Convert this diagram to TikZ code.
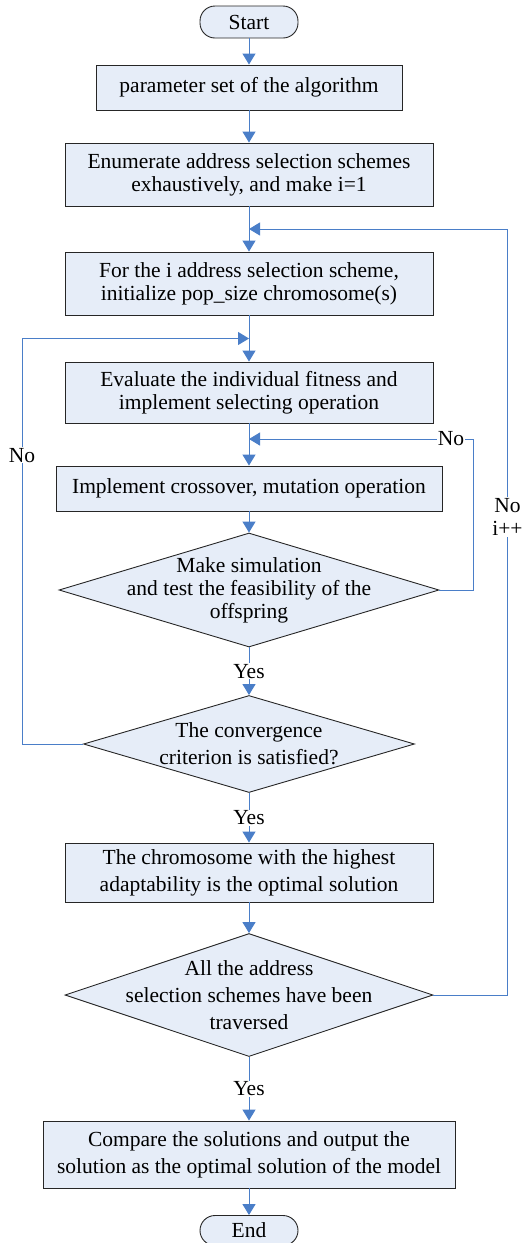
\documentclass[tikz,border=0pt]{standalone}
\usepackage{fontspec}
\setmainfont{Liberation Serif}
\usetikzlibrary{positioning, shapes.geometric, arrows.meta, calc}
\definecolor{flowblue}{HTML}{4A7EC8}
\definecolor{boxfill}{HTML}{E6EDF8}
\definecolor{boxline}{HTML}{262626}
\tikzset{
  stepbox/.style={draw=boxline, fill=boxfill, line width=0.9pt, align=center, inner sep=0pt},
  term/.style={stepbox, rounded corners=15pt, minimum width=98pt, minimum height=32pt},
  test/.style={diamond, stepbox},
  wide/.style={font=\fontsize{21.5}{27}\selectfont},
  flow/.style={->, color=flowblue, line width=1pt},
  lbl/.style={fill=white, text=black, inner sep=1pt, align=center}
}

\begin{document}
\begin{tikzpicture}
	[on grid, x=1pt, y=1pt, >={Triangle[width=13pt,length=11pt]}, font=\fontsize{21.5}{23}\selectfont]
   \useasboundingbox (0,0) rectangle (529,-1243);
   \node[term] (start) at (249,-22) {Start};
   \node[stepbox, minimum width=306pt, minimum height=45pt] (b_1) [below=65.5pt of start] {parameter set of the algorithm};
   \node[stepbox, minimum width=368pt, minimum height=63pt] (b_2) [below=87pt of b_1] {Enumerate address selection schemes\\exhaustively, and make i=1};
   \node[stepbox, minimum width=368pt, minimum height=63pt] (b_3) [below=109pt of b_2] {For the i address selection scheme,\\initialize pop\_size chromosome(s)};
   \node[stepbox, minimum width=368pt, minimum height=61pt] (b_4) [below=109pt of b_3] {Evaluate the individual fitness and\\implement selecting operation};
   \node[stepbox, minimum width=386pt, minimum height=45pt] (b_5) [below=96pt of b_4] {Implement crossover, mutation operation};
   \node[test, minimum width=380pt, minimum height=114pt, label={[align=center]center:Make simulation\\and test the feasibility of the\\offspring}] (d_1) [below=101.5pt of b_5] {};
   \node[test, minimum width=331pt, minimum height=97pt, label={[align=center, wide]center:The convergence\\criterion  is satisfied?}] (d_2) [below=154pt of d_1] {};
   \node[stepbox, wide, minimum width=368pt, minimum height=59pt] (b_6) [below=128.5pt of d_2] {The chromosome with the highest\\adaptability is the optimal solution};
   \node[test, minimum width=368pt, minimum height=123pt, label={[align=center, wide]center:All the address\\selection schemes have been\\traversed}] (d_3) [below=122.5pt of b_6] {};
   \node[stepbox, wide, minimum width=412pt, minimum height=67pt] (b_7) [below=159.5pt of d_3] {Compare the solutions and output the\\solution  as the optimal solution of the model};
   \node[term, minimum height=30pt] (fin) [below=76pt of b_7] {End};
   % joints on the main line
   \coordinate (j_1) at ($(b_2.south)!0.5!(b_3.north)$);
   \coordinate (j_2) at ($(b_3.south)!0.5!(b_4.north)$);
   \coordinate (j_3) at ($(b_4.south)!0.37!(b_5.north)$);
    \path[flow]
    (start) edge (b_1)
    (b_1) edge (b_2)
    (b_2) edge (b_3)
    (b_3) edge (b_4)
    (b_4) edge (b_5)
    (b_5) edge (d_1)
    (d_1) edge node[lbl] {Yes} (d_2)
    (d_2) edge node[lbl] {Yes} (b_6)
    (b_6) edge (d_3)
    (d_3) edge node[lbl] {Yes} (b_7)
    (b_7) edge (fin);
   \draw[flow] (d_1.east) -- ++(34,0) |- (j_3) node[lbl, pos=0.55] {No};
   \draw[flow] (d_2.west) -- ++(-61,0) |- (j_2) node[lbl, pos=0.356] {No};
   \draw[flow] (d_3.east) -- ++(74,0) |- (j_1) node[lbl, pos=0.312] {No\\i++};
\end{tikzpicture}
\end{document}
